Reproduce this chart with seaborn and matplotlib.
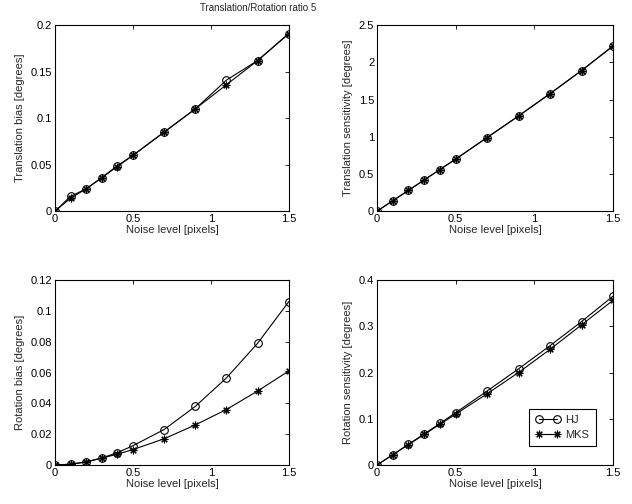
import matplotlib
matplotlib.use('Agg')
import matplotlib.pyplot as plt
from matplotlib.ticker import FormatStrFormatter
import seaborn as sns
import pandas as pd

# noise levels [pixels]
noise = [0, 0.1, 0.2, 0.3, 0.4, 0.5, 0.7, 0.9, 1.1, 1.3, 1.5]

trans_bias_hj = [0, 0.016, 0.024, 0.036, 0.049, 0.060, 0.085, 0.110, 0.141, 0.162, 0.191]
trans_bias_mks = [0, 0.014, 0.024, 0.036, 0.048, 0.060, 0.085, 0.110, 0.136, 0.162, 0.191]
trans_sens_hj = [0, 0.14, 0.28, 0.42, 0.56, 0.70, 0.99, 1.28, 1.58, 1.89, 2.22]
trans_sens_mks = [0, 0.14, 0.28, 0.42, 0.56, 0.70, 0.99, 1.28, 1.58, 1.89, 2.22]
rot_bias_hj = [0, 0.0005, 0.002, 0.0045, 0.008, 0.0125, 0.023, 0.038, 0.0565, 0.079, 0.106]
rot_bias_mks = [0, 0.0005, 0.002, 0.0045, 0.007, 0.010, 0.017, 0.026, 0.036, 0.048, 0.061]
rot_sens_hj = [0, 0.022, 0.045, 0.067, 0.090, 0.113, 0.160, 0.208, 0.258, 0.310, 0.365]
rot_sens_mks = [0, 0.022, 0.044, 0.066, 0.088, 0.110, 0.154, 0.200, 0.250, 0.303, 0.356]

methods = ['HJ', 'MKS']
ylabels = ['Translation bias [degrees]', 'Translation sensitivity [degrees]',
           'Rotation bias [degrees]', 'Rotation sensitivity [degrees]']
ylims = [0.2, 2.5, 0.12, 0.4]
yticks = [[0, 0.05, 0.1, 0.15, 0.2], [0, 0.5, 1, 1.5, 2, 2.5],
          [0, 0.02, 0.04, 0.06, 0.08, 0.1, 0.12], [0, 0.1, 0.2, 0.3, 0.4]]
title = 'Translation/Rotation ratio 5'

sns.set_style('white')
plt.rcParams['font.family'] = ['Liberation Sans', 'DejaVu Sans']
plt.rcParams['font.size'] = 8

panels = [
    (trans_bias_hj, trans_bias_mks),
    (trans_sens_hj, trans_sens_mks),
    (rot_bias_hj, rot_bias_mks),
    (rot_sens_hj, rot_sens_mks),
]

fig = plt.figure(figsize=(6.32, 5.04), dpi=100)
positions = [
    [0.087, 0.581, 0.370, 0.369],
    [0.5965, 0.581, 0.3734, 0.369],
    [0.087, 0.0774, 0.370, 0.367],
    [0.5965, 0.0774, 0.3734, 0.367],
]
markers = {'HJ': 'o', 'MKS': (8, 2, 0)}
msizes = {'HJ': 5.5, 'MKS': 5.5}

for i, (hj, mks) in enumerate(panels):
    ax = fig.add_axes(positions[i])
    df = pd.DataFrame({
        'noise': noise * 2,
        'value': hj + mks,
        'method': ['HJ'] * len(noise) + ['MKS'] * len(noise),
    })
    for m in methods:
        sub = df[df['method'] == m]
        sns.lineplot(data=sub, x='noise', y='value', ax=ax, color='k',
                     marker=markers[m], markersize=msizes[m], markerfacecolor='none',
                     markeredgecolor='k', markeredgewidth=0.8, linewidth=0.8,
                     label=m, legend=False)
    ax.set_xlim(0, 1.5)
    ax.set_ylim(0, ylims[i])
    ax.set_xticks([0, 0.5, 1, 1.5])
    ax.set_yticks(yticks[i])
    ax.xaxis.set_major_formatter(FormatStrFormatter('%g'))
    ax.yaxis.set_major_formatter(FormatStrFormatter('%g'))
    ax.tick_params(direction='in', top=True, right=True, length=3, width=0.6,
                   labelsize=8, pad=2, colors='k')
    ax.set_xlabel('Noise level [pixels]', fontsize=8, labelpad=1)
    ax.set_ylabel(ylabels[i], fontsize=8, labelpad=4)
    for s in ax.spines.values():
        s.set_linewidth(0.8)
        s.set_color('k')
    if i == 3:
        leg = ax.legend(loc='upper left', bbox_to_anchor=(0.62, 0.335),
                        numpoints=2, handlelength=2.2, fancybox=False,
                        framealpha=1, edgecolor='k', fontsize=8,
                        borderpad=0.6, labelspacing=0.4, handletextpad=0.5)
        leg.get_frame().set_linewidth(0.8)

fig.text(0.408, 0.984, title, ha='center', va='center', fontsize=7)

fig.savefig('out.png', dpi=100)
